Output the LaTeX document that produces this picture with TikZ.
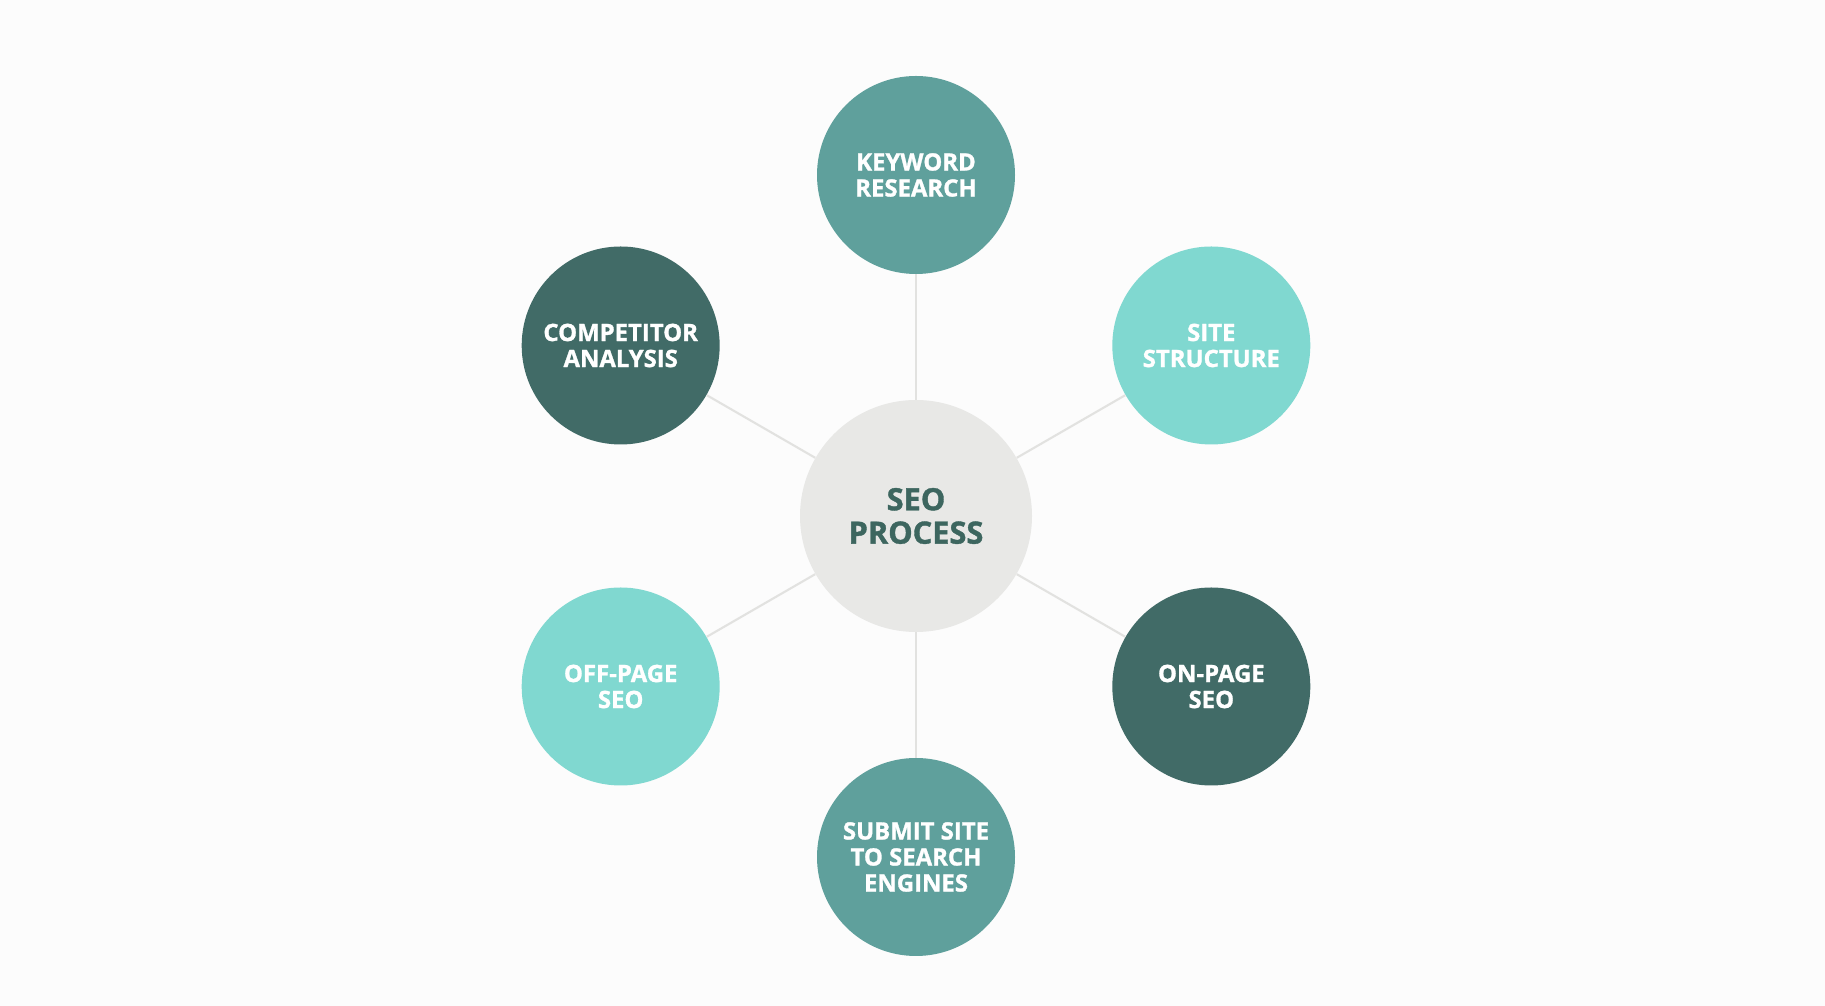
\documentclass[tikz,border=0pt]{standalone}
\usepackage{fontspec}
\setmainfont{Open Sans}[BoldFeatures={FakeBold=1.2}]
\usepackage{xcolor}
\usepackage{tikz}
\definecolor{SeoBack}{HTML}{FCFCFC}
\definecolor{SeoMid}{HTML}{5FA09C}
\definecolor{SeoDark}{HTML}{416B67}
\definecolor{SeoLight}{HTML}{80D8D0}
\definecolor{SeoHub}{HTML}{E8E8E6}
\definecolor{SeoInk}{HTML}{3D665F}
\definecolor{SeoLine}{HTML}{E2E2E0}

\begin{document}
\begin{tikzpicture}[
  topic/.style={circle, minimum size=39.6mm, inner sep=0pt, align=center, text=white, font=\fontsize{13.6}{14.8}\selectfont\bfseries},
  midtopic/.style={topic, fill=SeoMid},
  darktopic/.style={topic, fill=SeoDark},
  lighttopic/.style={topic, fill=SeoLight},
  hub/.style={circle, fill=SeoHub, minimum size=46.4mm, inner sep=0pt, align=center, text=SeoInk, font=\fontsize{17.5}{19}\selectfont\bfseries},
  link/.style={draw=SeoLine, line width=1.2pt}
]
  \fill[SeoBack] (0,0) rectangle (36.5,20.12);
  \useasboundingbox (0,0) rectangle (36.5,20.12);

  \node[hub] (seo) at (18.32,9.80) {SEO\\PROCESS};
  \node[midtopic] (keyword) at ([shift={(90:6.82)}]seo) {KEYWORD\\RESEARCH};
  \node[lighttopic] (site) at ([shift={(30:6.82)}]seo) {SITE\\STRUCTURE};
  \node[darktopic] (onpage) at ([shift={(-30:6.82)}]seo) {ON-PAGE\\SEO};
  \node[midtopic] (submit) at ([shift={(-90:6.82)}]seo) {SUBMIT SITE\\TO SEARCH\\ENGINES};
  \node[lighttopic] (offpage) at ([shift={(210:6.82)}]seo) {OFF-PAGE\\SEO};
  \node[darktopic] (competitor) at ([shift={(150:6.82)}]seo) {COMPETITOR\\ANALYSIS};

  \foreach \t in {keyword,site,onpage,submit,offpage,competitor}
    \draw[link] (seo) -- (\t);
\end{tikzpicture}
\end{document}
